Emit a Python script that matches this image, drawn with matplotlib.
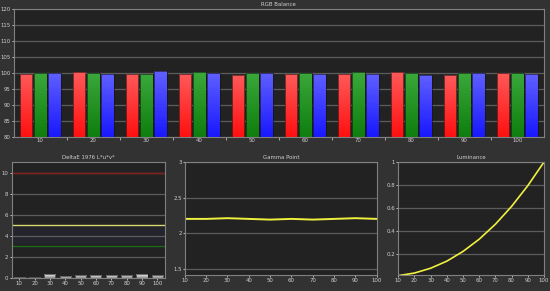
import numpy as np
import matplotlib
matplotlib.use('Agg')
import matplotlib.pyplot as plt

levels = [10, 20, 30, 40, 50, 60, 70, 80, 90, 100]
red = [99.8, 100.4, 99.7, 99.7, 99.4, 99.6, 99.8, 100.4, 99.3, 100.1]
green = [100.1, 100.1, 99.6, 100.2, 100.1, 100.1, 100.2, 100.1, 100.1, 100.1]
blue = [100.0, 99.8, 100.6, 100.1, 100.0, 99.8, 99.7, 99.4, 100.1, 99.6]
delta_e = [0.05, 0.1, 0.35, 0.15, 0.3, 0.25, 0.25, 0.3, 0.35, 0.3]
gamma = [2.20, 2.20, 2.21, 2.20, 2.19, 2.20, 2.19, 2.20, 2.21, 2.20]
luminance = [0.006, 0.029, 0.071, 0.133, 0.218, 0.325, 0.456, 0.612, 0.793, 1.0]

BG = '#323232'
AX = '#222222'
GRID = '#5c5c5c'
TXT = '#d0d0d0'
FS = 3.9

fig = plt.figure(figsize=(5.5, 2.91), dpi=100, facecolor=BG)


def style(ax, title):
    ax.set_facecolor(AX)
    for s in ax.spines.values():
        s.set_color('#808080')
        s.set_linewidth(0.8)
    ax.tick_params(colors=TXT, labelsize=FS, length=1.5, width=0.6, pad=0.8)
    ax.set_title(title, color=TXT, fontsize=FS, pad=2)
    ax.yaxis.grid(True, color=GRID, lw=0.9)
    ax.set_axisbelow(True)


def gradient_bars(ax, x, heights, bottom, width, top_col, bot_col):
    bars = ax.bar(x, np.array(heights) - bottom, bottom=bottom, width=width,
                  color='none', edgecolor='#111111', linewidth=0.4, zorder=3)
    grad = np.linspace(0, 1, 64).reshape(-1, 1)
    cmap = matplotlib.colors.LinearSegmentedColormap.from_list('g', [bot_col, top_col])
    for b in bars:
        x0, y0 = b.get_x(), b.get_y()
        im = ax.imshow(grad, cmap=cmap, origin='lower', aspect='auto',
                       extent=(x0, x0 + b.get_width(), y0, y0 + b.get_height()),
                       zorder=2)
        im.set_clip_path(b)
    return bars


# RGB Balance
ax1 = fig.add_axes([0.025, 0.529, 0.964, 0.44])
style(ax1, 'RGB Balance')
idx = np.arange(len(levels))
w = 0.24
gradient_bars(ax1, idx - 0.27, red, 80, w, '#ff5a5a', '#ff1010')
gradient_bars(ax1, idx, green, 80, w, '#3aa83a', '#0e7e0e')
gradient_bars(ax1, idx + 0.27, blue, 80, w, '#6060ff', '#1818ff')
ax1.set_xlim(-0.5, 9.5)
ax1.set_ylim(80, 120)
ax1.set_yticks(np.arange(80, 121, 5))
ax1.set_xticks(idx)
ax1.set_xticklabels([str(v) for v in levels])
ax1.set_xticks(idx[:-1] + 0.5, minor=True)
ax1.tick_params(axis='x', which='major', length=0)
ax1.tick_params(axis='x', which='minor', length=2, color='#bbbbbb', width=0.6)

# DeltaE
ax2 = fig.add_axes([0.021, 0.045, 0.279, 0.398])
style(ax2, 'DeltaE 1976 L*u*v*')
ax2.axhspan(3.3, 4.8, color='#24242c', zorder=0.5)
ax2.axhline(10, color='#8a1c1c', lw=1)
ax2.axhline(5, color='#d8d870', lw=1)
ax2.axhline(3, color='#1c6a1c', lw=1)
gradient_bars(ax2, idx, np.array(delta_e), 0, 0.72, '#f0f0f0', '#909090')
ax2.set_xlim(-0.5, 9.5)
ax2.set_ylim(0, 11)
ax2.set_yticks([0, 2, 4, 6, 8, 10])
ax2.set_xticks(idx)
ax2.set_xticklabels([str(v) for v in levels])

# Gamma Point
ax3 = fig.add_axes([0.336, 0.055, 0.349, 0.388])
style(ax3, 'Gamma Point')
ax3.plot(levels, gamma, color='#f0f040', lw=1.4)
ax3.set_xlim(10, 100)
ax3.set_ylim(1.41, 3)
ax3.set_yticks([1.5, 2, 2.5, 3])
ax3.set_yticklabels(['1.5', '2', '2.5', '3'])
ax3.set_xticks(levels)

# Luminance
ax4 = fig.add_axes([0.724, 0.055, 0.265, 0.388])
style(ax4, 'Luminance')
ax4.plot(levels, luminance, color='#f0f040', lw=1.2)
ax4.set_xlim(10, 100)
ax4.set_ylim(0.012, 1)
ax4.set_yticks([0.2, 0.4, 0.6, 0.8, 1])
ax4.set_yticklabels(['0.2', '0.4', '0.6', '0.8', '1'])
ax4.set_xticks(levels)

fig.savefig('out.png', dpi=100, facecolor=BG)
